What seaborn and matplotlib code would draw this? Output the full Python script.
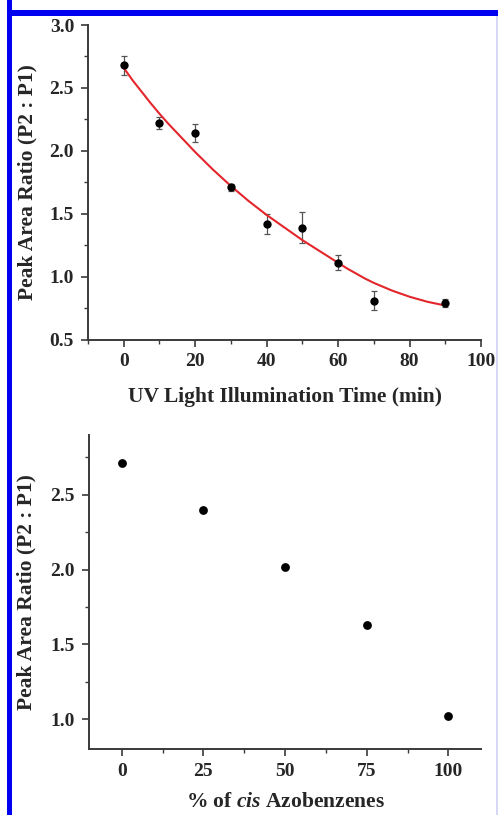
import matplotlib
matplotlib.use("Agg")
import matplotlib.pyplot as plt
import numpy as np
import pandas as pd
import seaborn as sns
from matplotlib.patches import Rectangle
from matplotlib.ticker import MultipleLocator

# UV illumination series (top panel)
uv_time = [0, 10, 20, 30, 40, 50, 60, 70, 90]
uv_ratio = [2.68, 2.22, 2.14, 1.71, 1.42, 1.39, 1.11, 0.81, 0.79]
uv_err = [0.075, 0.045, 0.07, 0.03, 0.08, 0.12, 0.06, 0.075, 0.035]

# fitted decay curve, every 2.5 min
fit_time = [0, 2.5, 5, 7.5, 10, 12.5, 15, 17.5, 20, 22.5, 25, 27.5, 30, 32.5, 35, 37.5,
            40, 42.5, 45, 47.5, 50, 52.5, 55, 57.5, 60, 62.5, 65, 67.5, 70, 72.5, 75,
            77.5, 80, 82.5, 85, 87.5, 90]
fit_ratio = [2.66, 2.56, 2.47, 2.38, 2.295, 2.215, 2.14, 2.065, 1.99, 1.92, 1.85, 1.785,
             1.72, 1.66, 1.60, 1.545, 1.49, 1.44, 1.39, 1.34, 1.29, 1.245, 1.20, 1.155,
             1.11, 1.065, 1.025, 0.985, 0.95, 0.92, 0.89, 0.865, 0.84, 0.82, 0.80,
             0.785, 0.77]

# cis fraction series (bottom panel)
cis_pct = [0, 25, 50, 75, 100]
cis_ratio = [2.71, 2.40, 2.02, 1.63, 1.02]

sns.set_theme(style="ticks")
plt.rcParams["font.family"] = ["Liberation Serif", "DejaVu Serif"]
plt.rcParams["font.weight"] = "bold"
plt.rcParams["mathtext.fontset"] = "custom"
plt.rcParams["mathtext.rm"] = "Liberation Serif:bold"
plt.rcParams["mathtext.it"] = "Liberation Serif:italic:bold"

SPINE = "#3a3a3a"
YLABEL = "Peak Area Ratio (P2 : P1)"
LABEL_SIZE = 15.5
TICK_SIZE = 14

fig = plt.figure(figsize=(4.98, 8.15), dpi=100)
ax1 = fig.add_axes([0.1767, 0.5834, 0.7893, 0.3859])
ax2 = fig.add_axes([0.1787, 0.0810, 0.7873, 0.3853])

uv = pd.DataFrame({"time": uv_time, "ratio": uv_ratio, "err": uv_err})
fit = pd.DataFrame({"time": fit_time, "ratio": fit_ratio})
cis = pd.DataFrame({"pct": cis_pct, "ratio": cis_ratio})

ax1.errorbar(uv["time"], uv["ratio"], yerr=uv["err"], fmt="none", ecolor="#555555",
             elinewidth=0.9, capsize=2.5, capthick=0.9, zorder=2)
sns.lineplot(data=fit, x="time", y="ratio", ax=ax1, color="#e3262b", linewidth=1.5,
             zorder=3)
sns.scatterplot(data=uv, x="time", y="ratio", ax=ax1, color="black", s=36,
                edgecolor="black", linewidth=0, zorder=4)
ax1.set_xlim(-10, 100)
ax1.set_ylim(0.5, 3.0)
ax1.xaxis.set_major_locator(MultipleLocator(20))
ax1.xaxis.set_minor_locator(MultipleLocator(10))
ax1.yaxis.set_major_locator(MultipleLocator(0.5))
ax1.yaxis.set_minor_locator(MultipleLocator(0.25))
ax1.set_xlabel("UV Light Illumination Time (min)", fontsize=LABEL_SIZE,
               fontweight="bold", labelpad=12)
ax1.set_ylabel(YLABEL, fontsize=LABEL_SIZE, fontweight="bold", labelpad=9)

sns.scatterplot(data=cis, x="pct", y="ratio", ax=ax2, color="black", s=40,
                edgecolor="black", linewidth=0, zorder=4)
ax2.set_xlim(-10, 110)
ax2.set_ylim(0.8, 2.9)
ax2.xaxis.set_major_locator(MultipleLocator(25))
ax2.xaxis.set_minor_locator(MultipleLocator(12.5))
ax2.yaxis.set_major_locator(MultipleLocator(0.5))
ax2.yaxis.set_minor_locator(MultipleLocator(0.25))
ax2.set_xlabel(r"% of $\mathit{cis}$ Azobenzenes", fontsize=LABEL_SIZE,
               fontweight="bold", labelpad=9)
ax2.set_ylabel(YLABEL, fontsize=LABEL_SIZE, fontweight="bold", labelpad=10)

for ax in (ax1, ax2):
    sns.despine(ax=ax)
    for side in ("left", "bottom"):
        ax.spines[side].set_color(SPINE)
        ax.spines[side].set_linewidth(1.4)
    ax.tick_params(which="major", direction="out", length=5, width=1.2, color=SPINE,
                   labelsize=TICK_SIZE, pad=5)
    ax.tick_params(which="minor", direction="out", length=3, width=1.0, color=SPINE)
    for lbl in ax.get_xticklabels() + ax.get_yticklabels():
        lbl.set_fontweight("bold")
    ax.grid(False)

# blue frame of the source figure
fig.patches.append(Rectangle((7 / 498, 0), 5 / 498, 1, transform=fig.transFigure,
                             facecolor="#0000f0", edgecolor="none", zorder=10))
fig.patches.append(Rectangle((7 / 498, 1 - 16 / 815), 1 - 7 / 498, 6 / 815,
                             transform=fig.transFigure, facecolor="#0000f0",
                             edgecolor="none", zorder=10))
fig.patches.append(Rectangle((496 / 498, 0), 1.5 / 498, 1 - 16 / 815,
                             transform=fig.transFigure, facecolor="#d8d8f4",
                             edgecolor="none", zorder=10))

fig.savefig("out.png", dpi=100)
